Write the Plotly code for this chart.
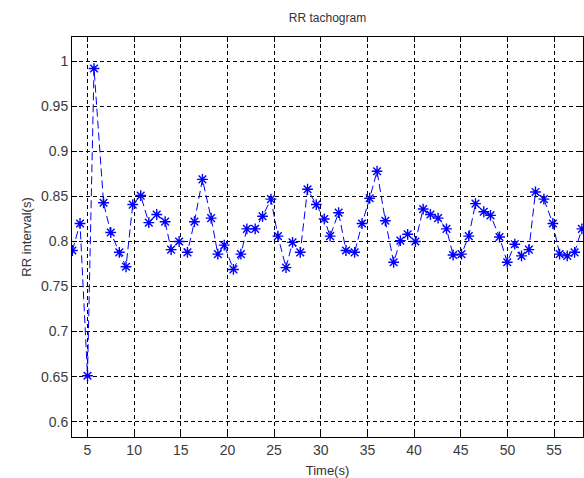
import plotly.graph_objects as go

time_s = [3.38, 4.20, 5.00, 5.70, 6.72, 7.49, 8.41, 9.13, 9.85, 10.70, 11.57, 12.42,
          13.32, 13.96, 14.82, 15.71, 16.46, 17.32, 18.25, 18.97, 19.65, 20.64, 21.44,
          22.08, 22.97, 23.76, 24.66, 25.41, 26.27, 26.97, 27.80, 28.58, 29.52, 30.37,
          31.00, 31.91, 32.70, 33.63, 34.42, 35.24, 36.03, 36.92, 37.81, 38.53, 39.31,
          40.14, 40.97, 41.75, 42.57, 43.47, 44.18, 45.08, 45.86, 46.58, 47.47, 48.19,
          49.15, 49.98, 50.79, 51.51, 52.30, 53.01, 53.91, 54.87, 55.59, 56.41, 57.20, 57.98]
rr_s = [0.790, 0.820, 0.651, 0.992, 0.843, 0.810, 0.788, 0.772, 0.841, 0.851, 0.821, 0.830,
        0.822, 0.791, 0.800, 0.788, 0.822, 0.869, 0.826, 0.786, 0.796, 0.769, 0.786,
        0.814, 0.814, 0.828, 0.847, 0.806, 0.771, 0.799, 0.788, 0.858, 0.841, 0.825,
        0.806, 0.832, 0.790, 0.788, 0.820, 0.848, 0.878, 0.823, 0.777, 0.801, 0.808,
        0.800, 0.836, 0.830, 0.826, 0.814, 0.785, 0.786, 0.806, 0.842, 0.833, 0.829,
        0.805, 0.777, 0.797, 0.784, 0.791, 0.855, 0.847, 0.820, 0.786, 0.784, 0.788, 0.814]

x_ticks = [5, 10, 15, 20, 25, 30, 35, 40, 45, 50, 55]
y_ticks = [0.6, 0.65, 0.7, 0.75, 0.8, 0.85, 0.9, 0.95, 1]
y_tick_text = ["0.6", "0.65", "0.7", "0.75", "0.8", "0.85", "0.9", "0.95", "1"]

FONT = "Liberation Sans, Arial, sans-serif"

fig = go.Figure()
fig.add_trace(go.Scatter(
    x=time_s, y=rr_s, mode="lines+markers",
    line=dict(color="#0000FF", width=1, dash="8px,4px"),
    marker=dict(symbol="asterisk-open", size=9, color="#0000FF",
                line=dict(color="#0000FF", width=1.4)),
    cliponaxis=True, showlegend=False,
))

axis_common = dict(
    showline=True, linecolor="black", linewidth=1, mirror="allticks",
    ticks="inside", ticklen=5, tickcolor="black",
    showgrid=True, gridcolor="black", gridwidth=1, griddash="4px,3px",
    zeroline=False,
    tickfont=dict(family=FONT, size=14, color="#3a3a3a"),
)

fig.update_layout(
    width=584, height=478,
    margin=dict(l=72, r=1, t=37, b=41),
    paper_bgcolor="white", plot_bgcolor="white",
    title=dict(text="RR tachogram", x=0.5, xref="paper", y=1 - 18 / 478,
               yref="container", yanchor="middle",
               font=dict(family=FONT, size=12, color="#333")),
    xaxis=dict(range=[3.34, 58.1], tickvals=x_ticks,
               title=dict(text="Time(s)", standoff=9,
                          font=dict(family=FONT, size=13, color="#333")),
               **axis_common),
    yaxis=dict(range=[0.583, 1.027], tickvals=y_ticks, ticktext=y_tick_text,
               title=dict(text="RR interval(s)", standoff=6,
                          font=dict(family=FONT, size=13, color="#333")),
               **axis_common),
)

fig.write_html("out.html", config={"displayModeBar": False},
               post_script="document.body.style.margin='0px';")
